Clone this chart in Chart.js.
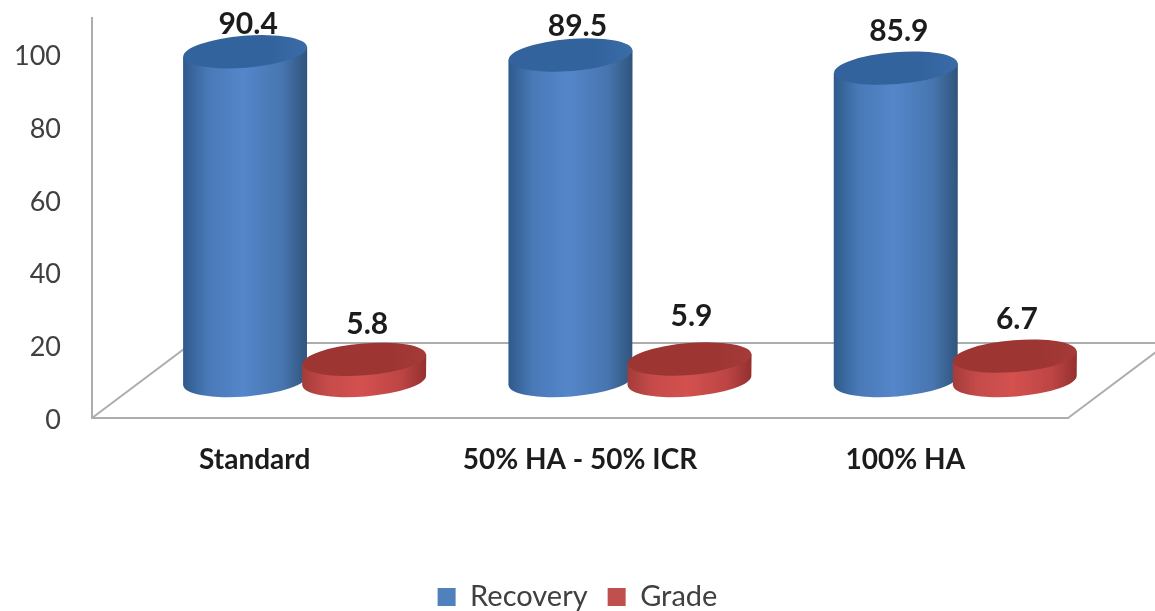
<!DOCTYPE html>
<html>
<head>
<meta charset="utf-8">
<script src="https://cdn.jsdelivr.net/npm/chart.js@4/dist/chart.umd.min.js"></script>
<style>
  html, body { margin: 0; padding: 0; background: #fff; overflow: hidden; }
  canvas { display: block; }
</style>
</head>
<body>
<canvas id="recoveryChart" width="1155" height="611"></canvas>
<script>
const categories = ["Standard", "50% HA - 50% ICR", "100% HA"];
const recovery = [90.4, 89.5, 85.9];
const grade = [5.8, 5.9, 6.7];
const yTicks = [0, 20, 40, 60, 80, 100];

// how far each value label sits from its bar: [dx, gap above the top]
const recoveryLabelShift = [[3, 27], [7, 29], [3, 37]];
const gradeLabelShift = [[3, 35], [2, 43], [2, 37]];

// floor depth in pixels, bars stand halfway along it
const depthX = 100;
const depthY = 75;
const ellipseRy = 16;
const tilt = -4.6 * Math.PI / 180;

const shades = [
  { edgeL: "#2f5a8c", mid: "#5486ca", edgeR: "#30547c", top: "#33639d", topLight: "#3a6ca8" },
  { edgeL: "#a43c3a", mid: "#d3514f", edgeR: "#94302f", top: "#9d3533", topLight: "#a63b39" },
];

function mix(a, b, t) {
  let out = "#";
  for (let i = 1; i < 7; i += 2) {
    const va = parseInt(a.substr(i, 2), 16);
    const vb = parseInt(b.substr(i, 2), 16);
    out += Math.round(va + (vb - va) * t).toString(16).padStart(2, "0");
  }
  return out;
}

function drawCylinder(ctx, bar, shade) {
  const cx = bar.x + depthX / 2;
  const topY = bar.y - depthY / 2;
  const baseY = bar.base - depthY / 2;
  const rx = bar.width / 2;
  const left = cx - rx;
  const right = cx + rx;

  const side = ctx.createLinearGradient(left, 0, right, 0);
  side.addColorStop(0, shade.edgeL);
  side.addColorStop(0.2, mix(shade.edgeL, shade.mid, 0.7));
  side.addColorStop(0.48, shade.mid);
  side.addColorStop(0.8, mix(shade.edgeR, shade.mid, 0.65));
  side.addColorStop(1, shade.edgeR);

  const dy = Math.sin(tilt) * rx;
  ctx.beginPath();
  ctx.moveTo(left, topY - dy);
  ctx.lineTo(left, baseY - dy);
  ctx.ellipse(cx, baseY, rx, ellipseRy, tilt, Math.PI, 0, true);
  ctx.lineTo(right, topY + dy);
  ctx.closePath();
  ctx.fillStyle = side;
  ctx.fill();

  const cap = ctx.createLinearGradient(left, 0, right, 0);
  cap.addColorStop(0, shade.top);
  cap.addColorStop(0.7, shade.top);
  cap.addColorStop(1, shade.topLight);
  ctx.beginPath();
  ctx.ellipse(cx, topY, rx, ellipseRy, tilt, 0, Math.PI * 2);
  ctx.fillStyle = cap;
  ctx.fill();
}

// the bars are redrawn as cylinders on a slanted floor, red over blue
const cylinderPlugin = {
  id: "cylinders",
  afterLayout(chart) {
    // centre the legend on the whole canvas, not on the padded area
    chart.legend.left = 0;
    chart.legend.right = chart.width;
    chart.legend.top = 562.5;
  },
  beforeDatasetsDraw(chart) {
    const ctx = chart.ctx;
    const area = chart.chartArea;
    const zero = chart.scales.y.getPixelForValue(0);

    ctx.save();
    ctx.strokeStyle = "#adadad";
    ctx.lineWidth = 2;
    ctx.beginPath();
    ctx.moveTo(area.left, zero);
    ctx.lineTo(area.left + depthX, zero - depthY);
    ctx.lineTo(area.right + depthX, zero - depthY);
    ctx.lineTo(area.right, zero);
    ctx.stroke();

    const recoveryBars = chart.getDatasetMeta(0).data;
    const gradeBars = chart.getDatasetMeta(1).data;
    categories.forEach((name, i) => {
      drawCylinder(ctx, recoveryBars[i], shades[0]);
      drawCylinder(ctx, gradeBars[i], shades[1]);
    });

    ctx.fillStyle = "#1c1c1c";
    ctx.font = "bold 30px Lato";
    ctx.textAlign = "center";
    ctx.textBaseline = "middle";
    categories.forEach((name, i) => {
      const a = recoveryBars[i];
      const b = gradeBars[i];
      ctx.fillText(recovery[i].toFixed(1), a.x + depthX / 2 + recoveryLabelShift[i][0], a.y - depthY / 2 - recoveryLabelShift[i][1]);
      ctx.fillText(grade[i].toFixed(1), b.x + depthX / 2 + gradeLabelShift[i][0], b.y - depthY / 2 - gradeLabelShift[i][1]);
    });
    ctx.restore();
    return false;
  },
};

new Chart(document.getElementById("recoveryChart"), {
  type: "bar",
  data: {
    labels: categories,
    datasets: [
      { label: "Recovery", data: recovery, backgroundColor: "#4f81bd", borderWidth: 0 },
      { label: "Grade", data: grade, backgroundColor: "#c0504d", borderWidth: 0 },
    ],
  },
  options: {
    responsive: false,
    animation: false,
    categoryPercentage: 0.732,
    barPercentage: 1.042,
    layout: { padding: { top: 18, right: 87, left: 0, bottom: 0 } },
    scales: {
      x: {
        grid: { display: false, drawTicks: false },
        border: { display: true, color: "#adadad", width: 2 },
        ticks: { color: "#1c1c1c", font: { family: "Lato", size: 28, weight: "bold" }, padding: 25, maxRotation: 0, autoSkip: false },
        afterFit(scale) {
          scale.height = 134;
          scale.paddingLeft = 0;
          scale.paddingRight = 0;
        },
      },
      y: {
        min: 0,
        max: 110,
        grid: { display: false, drawTicks: false },
        border: { display: true, color: "#adadad", width: 2 },
        ticks: { color: "#404040", font: { family: "Lato", size: 27 }, padding: 31, labelOffset: 2, includeBounds: false },
        afterBuildTicks(scale) { scale.ticks = yTicks.map((v) => ({ value: v })); },
        afterFit(scale) {
          scale.width = 92;
          scale.paddingTop = 0;
          scale.paddingBottom = 0;
        },
      },
    },
    plugins: {
      tooltip: { enabled: false },
      legend: {
        position: "bottom",
        labels: { boxWidth: 18, boxHeight: 18, padding: 20, color: "#404040", font: { family: "Lato", size: 29 } },
      },
    },
  },
  plugins: [cylinderPlugin],
});
</script>
</body>
</html>
